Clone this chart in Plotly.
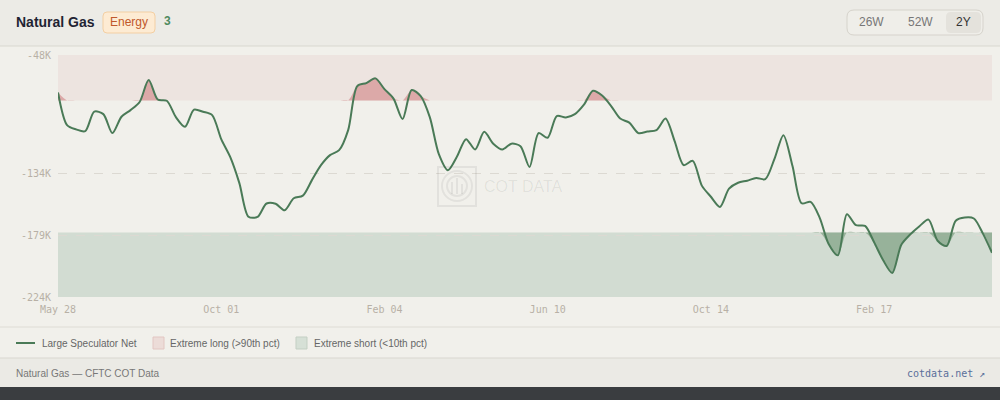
import pandas as pd
import plotly.graph_objects as go

# weekly net positions of large speculators, thousands of contracts
start_date = "2024-05-28"
net_positions = [
    -75.2, -99.0, -102.1, -103.4, -89.2, -91.0, -104.8, -92.9, -88.1, -82.2,
    -66.2, -80.4, -81.3, -93.2, -100.2, -87.7, -89.3, -91.7, -109.2, -122.3,
    -141.2, -165.6, -165.8, -156.0, -156.2, -160.9, -152.2, -150.3, -139.0, -128.1,
    -120.8, -117.2, -102.6, -70.6, -68.4, -65.0, -72.8, -79.7, -94.6, -73.5,
    -77.9, -93.2, -120.1, -131.8, -121.9, -109.2, -116.7, -103.9, -112.5, -116.7,
    -112.5, -114.3, -129.4, -104.8, -108.2, -92.4, -93.4, -91.0, -84.1, -74.0,
    -77.5, -85.1, -94.2, -97.2, -104.8, -103.7, -102.6, -94.2, -110.6, -128.1,
    -125.0, -143.0, -151.1, -158.5, -145.2, -140.9, -139.4, -137.4, -138.3, -123.7,
    -106.3, -128.8, -155.8, -154.8, -166.4, -185.7, -193.7, -163.8, -171.8, -172.3,
    -184.2, -197.3, -206.6, -186.0, -178.4, -172.5, -167.7, -183.1, -186.9, -168.5,
    -166.2, -166.9, -177.9, -191.8,
]
p90 = -81.0
p10 = -177.0
y_min, y_max = -224, -48
y_ticks = [-48, -134, -179, -224]
y_tick_text = ["-48K", "-134K", "-179K", "-224K"]
x_tick_dates = ["2024-05-28", "2024-10-01", "2025-02-04", "2025-06-10", "2025-10-14", "2026-02-17"]
x_tick_text = ["May 28", "Oct 01", "Feb 04", "Jun 10", "Oct 14", "Feb 17"]

dates = pd.date_range(start_date, periods=len(net_positions), freq="7D")
above = [max(v, p90) for v in net_positions]
below = [min(v, p10) for v in net_positions]

LINE = "#4a7a57"
SANS = "Liberation Sans, Arial, sans-serif"
MONO = "DejaVu Sans Mono, monospace"

# plot area in pixels, used to place the page furniture
L, R, T, B = 58, 992, 55, 297


def px(x):
    return (x - L) / (R - L)


def py(y):
    return (B - y) / (B - T)


def rrect(x0, y0, x1, y1, r):
    """rounded rectangle path in paper coords from pixel box"""
    pts = [
        f"M{px(x0 + r)},{py(y0)}", f"L{px(x1 - r)},{py(y0)}",
        f"Q{px(x1)},{py(y0)} {px(x1)},{py(y0 + r)}", f"L{px(x1)},{py(y1 - r)}",
        f"Q{px(x1)},{py(y1)} {px(x1 - r)},{py(y1)}", f"L{px(x0 + r)},{py(y1)}",
        f"Q{px(x0)},{py(y1)} {px(x0)},{py(y1 - r)}", f"L{px(x0)},{py(y0 + r)}",
        f"Q{px(x0)},{py(y0)} {px(x0 + r)},{py(y0)}", "Z",
    ]
    return " ".join(pts)


def box(x0, y0, x1, y1, color, line=None, layer="below"):
    return dict(type="rect", xref="paper", yref="paper", x0=px(x0), x1=px(x1),
                y0=py(y1), y1=py(y0), fillcolor=color, layer=layer,
                line=dict(width=1 if line else 0, color=line or color))


fig = go.Figure()
spl = dict(shape="spline", smoothing=0.8)

fig.add_trace(go.Scatter(x=dates, y=[p90] * len(dates), mode="lines",
                         line=dict(width=0), hoverinfo="skip"))
fig.add_trace(go.Scatter(x=dates, y=above, mode="lines", fill="tonexty",
                         fillcolor="rgba(214,150,150,0.75)", line=dict(width=0, **spl),
                         hoverinfo="skip"))
fig.add_trace(go.Scatter(x=dates, y=[p10] * len(dates), mode="lines",
                         line=dict(width=0), hoverinfo="skip"))
fig.add_trace(go.Scatter(x=dates, y=below, mode="lines", fill="tonexty",
                         fillcolor="rgba(120,155,125,0.65)", line=dict(width=0, **spl),
                         hoverinfo="skip"))
fig.add_trace(go.Scatter(x=dates, y=net_positions, mode="lines", name="Large Speculator Net",
                         line=dict(color=LINE, width=2, **spl)))

shapes = [
    # page sections
    box(0, 0, 1000, 46, "#ecebe6"),
    dict(type="line", xref="paper", yref="paper", x0=px(0), x1=px(1000), y0=py(46), y1=py(46),
         line=dict(color="#d9d7d0", width=1)),
    dict(type="line", xref="paper", yref="paper", x0=px(0), x1=px(1000), y0=py(327), y1=py(327),
         line=dict(color="#dedcd5", width=1)),
    box(0, 358, 1000, 387, "#ebeae5"),
    dict(type="line", xref="paper", yref="paper", x0=px(0), x1=px(1000), y0=py(358), y1=py(358),
         line=dict(color="#d9d7d0", width=1)),
    box(0, 387, 1000, 400, "#3a3d40"),
    # percentile bands
    dict(type="rect", xref="paper", yref="y", x0=0, x1=1, y0=p90, y1=y_max,
         fillcolor="#ede4e0", line=dict(width=0), layer="below"),
    dict(type="rect", xref="paper", yref="y", x0=0, x1=1, y0=y_min, y1=p10,
         fillcolor="#d2dcd2", line=dict(width=0), layer="below"),
    # badge and range buttons
    dict(type="path", xref="paper", yref="paper", path=rrect(103, 12, 155, 33, 4),
         fillcolor="#fdebd3", line=dict(color="#f3cfa3", width=1), layer="below"),
    dict(type="path", xref="paper", yref="paper", path=rrect(847, 10, 983, 35, 7),
         fillcolor="#efeee9", line=dict(color="#d6d3cc", width=1), layer="below"),
    dict(type="path", xref="paper", yref="paper", path=rrect(946, 12, 981, 33, 5),
         fillcolor="#e4e2dc", line=dict(width=0), layer="below"),
    # legend swatches
    dict(type="line", xref="paper", yref="paper", x0=px(16), x1=px(35), y0=py(343), y1=py(343),
         line=dict(color=LINE, width=2)),
    box(153, 337, 164, 349, "#ecdcd8", "#e2c6c2"),
    box(296, 337, 307, 349, "#d6e0d6", "#c3cfc3"),
    # watermark logo
    dict(type="rect", xref="paper", yref="paper", x0=px(438), x1=px(476), y0=py(206), y1=py(167),
         line=dict(color="rgba(0,0,0,0.06)", width=2), layer="above"),
    dict(type="circle", xref="paper", yref="paper", x0=px(442), x1=px(472), y0=py(201), y1=py(171),
         line=dict(color="rgba(0,0,0,0.06)", width=2), layer="above"),
    dict(type="circle", xref="paper", yref="paper", x0=px(447), x1=px(467), y0=py(196), y1=py(176),
         line=dict(color="rgba(0,0,0,0.06)", width=2), layer="above"),
]
for bx, top in [(452, 182), (457, 178), (462, 184)]:
    shapes.append(dict(type="line", xref="paper", yref="paper", x0=px(bx), x1=px(bx),
                       y0=py(194), y1=py(top), line=dict(color="rgba(0,0,0,0.06)", width=2),
                       layer="above"))


def label(x, y, text, size=11, color="#777", font=SANS, anchor="left"):
    return dict(xref="paper", yref="paper", x=px(x), y=py(y), text=text, showarrow=False,
                xanchor=anchor, yanchor="middle", borderpad=0,
                font=dict(family=font, size=size, color=color))


annotations = [
    label(15, 22, "<b>Natural Gas</b>", 14, "#1f2433"),
    label(129, 22, "Energy", 12, "#c0582c", anchor="center"),
    label(163, 21, "<b>3</b>", 12, "#4f8a5e"),
    label(871, 22, "26W", 12, "#777", anchor="center"),
    label(920, 22, "52W", 12, "#777", anchor="center"),
    label(963, 22, "2Y", 12, "#333", anchor="center"),
    label(483, 186, "COT DATA", 16, "rgba(0,0,0,0.07)"),
    label(41, 343, "Large Speculator Net", 10, "#666"),
    label(169, 343, "Extreme long (&gt;90th pct)", 10, "#666"),
    label(313, 343, "Extreme short (&lt;10th pct)", 10, "#666"),
    label(15, 373, "Natural Gas — CFTC COT Data", 10, "#777"),
    label(986, 373, "cotdata.net ↗", 10, "#5a6f9a", MONO, "right"),
]

fig.update_layout(
    width=1000, height=400,
    margin=dict(l=L, r=1000 - R, t=T, b=400 - B),
    paper_bgcolor="#f1f0eb", plot_bgcolor="#f1f0eb",
    showlegend=False, hovermode=False,
    shapes=shapes, annotations=annotations,
)
fig.update_xaxes(
    range=[dates[0], dates[-1]], tickvals=pd.to_datetime(x_tick_dates), ticktext=x_tick_text,
    showgrid=False, zeroline=False, showline=False, ticks="", ticklabelstandoff=5,
    tickfont=dict(family=MONO, size=10, color="#b8b0a6"),
)
fig.update_yaxes(
    range=[y_min, y_max], tickvals=y_ticks, ticktext=y_tick_text,
    showgrid=True, gridcolor="#dcd9d2", griddash="dash", zeroline=False, showline=False,
    ticks="", ticklabelstandoff=6, tickfont=dict(family=MONO, size=10, color="#b8b0a6"),
)

fig.write_html("out.html", config={"displayModeBar": False},
               post_script="document.body.style.margin='0';")
